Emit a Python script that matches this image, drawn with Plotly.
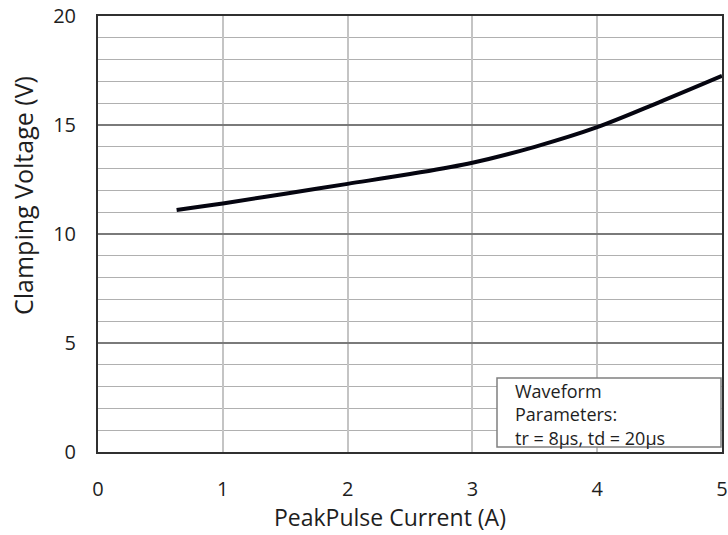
import plotly.graph_objects as go

current = [0.63, 1.0, 1.5, 2.0, 2.5, 3.0, 3.5, 4.0, 4.5, 5.0]
voltage = [11.1, 11.4, 11.85, 12.3, 12.75, 13.27, 14.0, 14.9, 16.05, 17.25]

x_ticks = [0, 1, 2, 3, 4, 5]
y_ticks = [0, 5, 10, 15, 20]
note_lines = ["Waveform", "Parameters:", "tr = 8µs, td = 20µs"]
x_title = "PeakPulse Current (A)"
y_title = "Clamping Voltage (V)"

FONT = "Open Sans, Noto Sans, sans-serif"
TXT = "#1e1e1e"

# page coords of plot area
PL, PR, PT, PB = 98, 722, 16, 452
PW, PH = PR - PL, PB - PT

def px(x):
    return (x - PL) / PW

def py(y):
    return (PB - y) / PH

fig = go.Figure()
fig.add_trace(go.Scatter(x=current, y=voltage, mode="lines",
                         line=dict(color="#050510", width=4, shape="spline"),
                         showlegend=False, hoverinfo="skip"))

fig.update_layout(
    width=728, height=535,
    margin=dict(l=PL, r=728 - PR, t=PT, b=535 - PB),
    paper_bgcolor="white", plot_bgcolor="white",
    font=dict(family=FONT, color=TXT),
)
fig.update_xaxes(range=[0, 5], tickvals=x_ticks, ticktext=[str(v) for v in x_ticks],
                 showgrid=True, gridcolor="#c4c4c4", gridwidth=1.5,
                 showline=True, linecolor="#303030", linewidth=2, mirror=True,
                 zeroline=False, ticks="", ticklen=0, automargin=False,
                 ticklabelstandoff=18, ticklabeloverflow="allow",
                 tickfont=dict(size=20, family=FONT, color=TXT))
fig.update_yaxes(range=[0, 20], tickvals=y_ticks, ticktext=[str(v) for v in y_ticks],
                 showgrid=True, gridcolor="#7a7a7a", gridwidth=1.5,
                 minor=dict(dtick=1, showgrid=True, gridcolor="#b0b0b0", gridwidth=1.2),
                 showline=True, linecolor="#303030", linewidth=2, mirror=True,
                 zeroline=False, ticks="", ticklen=0, automargin=False,
                 ticklabelstandoff=16, ticklabeloverflow="allow",
                 tickfont=dict(size=20, family=FONT, color=TXT))

# darker vertical gridline at 4 A
fig.add_shape(type="line", xref="x", yref="paper", x0=4, x1=4, y0=0, y1=1,
              line=dict(color="#707070", width=1.5), layer="below")

# axis titles
fig.add_annotation(xref="paper", yref="paper", x=px(390), y=py(517),
                   xanchor="center", yanchor="middle", text=x_title, showarrow=False,
                   font=dict(size=23, family=FONT, color=TXT))
fig.add_annotation(xref="paper", yref="paper", x=px(23), y=py(196),
                   xanchor="center", yanchor="middle", text=y_title, showarrow=False,
                   textangle=-90, font=dict(size=25, family=FONT, color=TXT))

# waveform note box
fig.add_shape(type="rect", xref="paper", yref="paper",
              x0=px(497), x1=px(721), y0=py(447), y1=py(378),
              fillcolor="white", line=dict(color="#808080", width=1.5), layer="above")
fig.add_annotation(xref="paper", yref="paper", x=px(513), y=py(377),
                   xanchor="left", yanchor="top", align="left",
                   text="<br>".join(note_lines), showarrow=False,
                   font=dict(size=18, family=FONT, color=TXT))

fig.write_html("out.html", config={"displayModeBar": False},
               post_script="document.body.style.margin='0';")
